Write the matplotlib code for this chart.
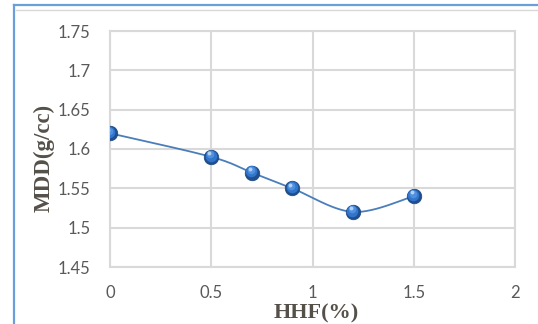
import numpy as np
import matplotlib
matplotlib.use("Agg")
import matplotlib.pyplot as plt
from matplotlib.lines import Line2D
from matplotlib.transforms import offset_copy

# data
hhf = [0, 0.5, 0.7, 0.9, 1.2, 1.5]
mdd = [1.62, 1.59, 1.57, 1.55, 1.52, 1.54]

x_ticks = [0, 0.5, 1, 1.5, 2]
x_labels = ["0", "0.5", "1", "1.5", "2"]
y_ticks = [1.45, 1.5, 1.55, 1.6, 1.65, 1.7, 1.75]
y_labels = ["1.45", "1.5", "1.55", "1.6", "1.65", "1.7", "1.75"]


def smooth(xs, ys, n=30):
    # excel-style smoothed line (catmull-rom through the points)
    p = np.column_stack([xs, ys]).astype(float)
    p = np.vstack([p[0], p, p[-1]])
    out = []
    for i in range(1, len(p) - 2):
        p0, p1, p2, p3 = p[i - 1], p[i], p[i + 1], p[i + 2]
        c1 = p1 + (p2 - p0) / 6
        c2 = p2 - (p3 - p1) / 6
        t = np.linspace(0, 1, n)[:, None]
        seg = ((1 - t) ** 3 * p1 + 3 * (1 - t) ** 2 * t * c1
               + 3 * (1 - t) * t ** 2 * c2 + t ** 3 * p2)
        out.append(seg if i == 1 else seg[1:])
    out = np.vstack(out)
    return out[:, 0], out[:, 1]


W, H = 538, 324
fig = plt.figure(figsize=(W / 100, H / 100), dpi=100)
ax = fig.add_axes([110 / W, 1 - 267 / H, 405 / W, 236 / H])

grey = "#d9d9d9"
txt = "#595959"

sx, sy = smooth(hhf, mdd)
ax.plot(sx, sy, color="#4a7ebb", lw=1.3, zorder=3)

# sphere-like markers, built from layered circles
ax.plot(hhf, mdd, "o", ms=10.5, color="#1f4f8f", mec="#1c4680", mew=0.5, zorder=4)
hi = offset_copy(ax.transData, fig=fig, x=-0.5, y=0.9, units="points")
ax.plot(hhf, mdd, "o", ms=8.3, color="#3276cc", mew=0, zorder=5, transform=hi)
hi1 = offset_copy(ax.transData, fig=fig, x=-0.9, y=1.8, units="points")
ax.plot(hhf, mdd, "o", ms=5.5, color="#4f90e0", mew=0, zorder=5, transform=hi1)
hi2 = offset_copy(ax.transData, fig=fig, x=-1.4, y=2.7, units="points")
ax.plot(hhf, mdd, "o", ms=2.8, color="#b3d1f5", mew=0, zorder=6, transform=hi2)

ax.set_xlim(0, 2)
ax.set_ylim(1.45, 1.75)
ax.set_xticks(x_ticks)
ax.set_xticklabels(x_labels)
ax.set_yticks(y_ticks)
ax.set_yticklabels(y_labels)
ax.grid(True, color=grey, lw=1.5)
ax.set_axisbelow(True)
for s in ax.spines.values():
    s.set_color(grey)
    s.set_linewidth(1.5)
ax.tick_params(length=0, labelsize=12, labelcolor=txt)
ax.tick_params(axis="y", pad=14)
ax.tick_params(axis="x", pad=13)
for lab in ax.get_xticklabels() + ax.get_yticklabels():
    lab.set_fontfamily("Lato")

fig.text(316 / W, 1 - 313 / H, "HHF(%)", ha="center", va="center",
         fontsize=16, fontweight="bold", family="Liberation Serif", color="#555049")
fig.text(44 / W, 1 - 158 / H, "MDD(g/cc)", ha="center", va="center", rotation=90,
         fontsize=16.5, fontweight="bold", family="Liberation Serif", color="#555049")

# chart frame edges
blue = "#6a9fdc"
fig.add_artist(Line2D([14 / W, 14 / W], [0, 1 - 5 / H], color=blue, lw=1.6))
fig.add_artist(Line2D([14 / W, 1], [1 - 5 / H, 1 - 5 / H], color=blue, lw=1.6))
fig.add_artist(Line2D([16 / W, 1], [1 - 9.5 / H, 1 - 9.5 / H], color=grey, lw=1.0))

fig.savefig("out.png", dpi=100)
